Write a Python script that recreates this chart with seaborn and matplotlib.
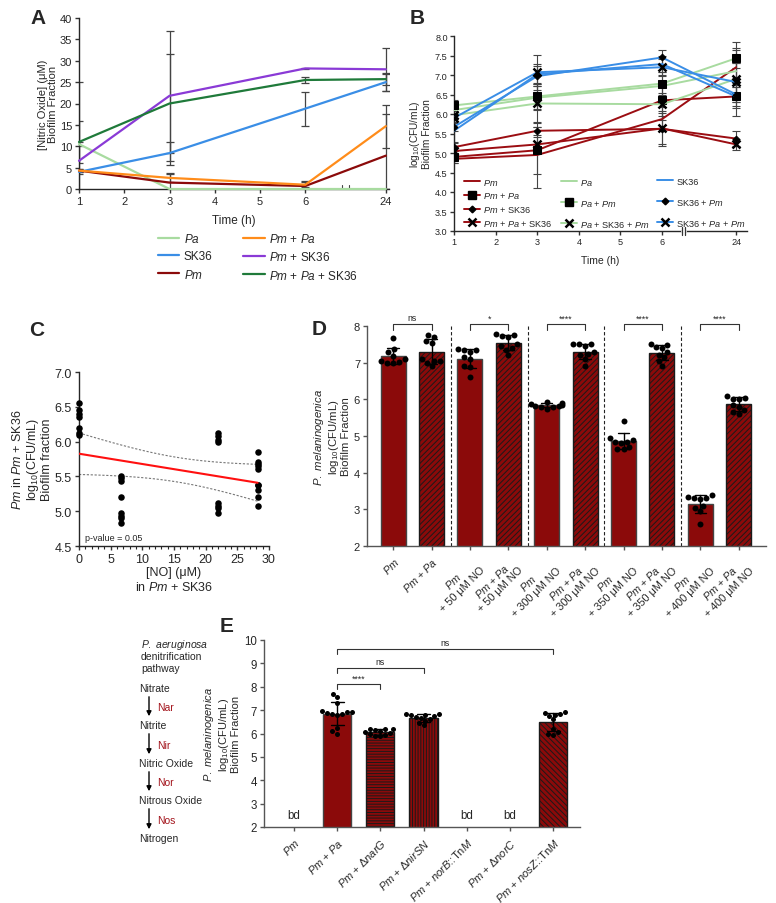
import numpy as np
import pandas as pd
import matplotlib
matplotlib.use('Agg')
import matplotlib.pyplot as plt
import matplotlib.transforms as mtrans
import seaborn as sns
from matplotlib.lines import Line2D

# ---------------- data ----------------
# A: nitric oxide (uM) in the biofilm fraction
times = [1, 3, 6, 24]
groups_a = ['Pa', 'SK36', 'Pm', 'Pm + Pa', 'Pm + SK36', 'Pm + Pa + SK36']
no_pa = [10.5, 0.0, 0.0, 0.0]
no_sk36 = [4.0, 8.4, 18.8, 25.0]
no_pm = [4.3, 1.5, 0.7, 7.8]
no_pm_pa = [4.3, 2.6, 1.0, 14.7]
no_pm_sk36 = [6.6, 21.8, 28.2, 28.0]
no_pm_pa_sk36 = [11.0, 20.0, 25.5, 25.7]
no_err = {'Pa': [0.5, 0.0, 0.0, 0.0], 'SK36': [0.5, 2.7, 4.0, 2.0],
          'Pm': [0.3, 2.2, 1.2, 9.8], 'Pm + Pa': [0.3, 1.0, 0.6, 5.0],
          'Pm + SK36': [18.4, 15.2, 0.1, 5.0], 'Pm + Pa + SK36': [5.0, 11.5, 0.8, 1.4]}

# B: log10 CFU/mL, species measured in each culture
series_b = ['Pm', 'Pm + Pa', 'Pm + SK36', 'Pm + Pa + SK36',
            'Pa', 'Pa + Pm', 'Pa + SK36 + Pm',
            'SK36', 'SK36 + Pm', 'SK36 + Pa + Pm']
cfu_b = {'Pm': [4.85, 4.95, 5.87, 7.2],
         'Pm + Pa': [4.9, 5.07, 6.35, 6.45],
         'Pm + SK36': [5.15, 5.57, 5.62, 5.37],
         'Pm + Pa + SK36': [5.05, 5.22, 5.63, 5.22],
         'Pa': [6.1, 6.42, 6.72, 7.1],
         'Pa + Pm': [6.22, 6.45, 6.78, 7.43],
         'Pa + SK36 + Pm': [5.97, 6.27, 6.25, 6.9],
         'SK36': [5.57, 7.02, 7.28, 6.45],
         'SK36 + Pm': [5.67, 6.97, 7.45, 6.5],
         'SK36 + Pa + Pm': [5.9, 7.07, 7.2, 6.82]}
err_b = {'Pm': [0.1, 0.85, 0.3, 0.45], 'Pm + Pa': [0.15, 0.6, 0.5, 0.25],
         'Pm + SK36': [0.1, 0.1, 0.4, 0.2], 'Pm + Pa + SK36': [0.1, 0.2, 0.45, 0.15],
         'Pa': [0.1, 0.3, 0.25, 0.2], 'Pa + Pm': [0.15, 0.35, 0.3, 0.25],
         'Pa + SK36 + Pm': [0.1, 0.5, 0.3, 0.95], 'SK36': [0.3, 0.25, 0.2, 0.3],
         'SK36 + Pm': [0.1, 0.25, 0.2, 0.2], 'SK36 + Pa + Pm': [0.1, 0.45, 0.2, 0.5]}

# C: Pm in Pm + SK36 vs NO
no_c = [0.0] * 7 + [6.7] * 8 + [22.0] * 8 + [28.2] * 10
cfu_c = [6.55, 6.45, 6.4, 6.35, 6.2, 6.12, 6.1,
         5.5, 5.47, 5.43, 5.2, 4.98, 4.93, 4.9, 4.83,
         6.13, 6.08, 6.03, 6.0, 5.12, 5.08, 5.05, 4.98,
         5.85, 5.7, 5.68, 5.65, 5.6, 5.38, 5.37, 5.3, 5.2, 5.08]

# D: P. melaninogenica with / without Pa and NO donor
labels_d = ['Pm', 'Pm + Pa', 'Pm\n+ 50 μM NO', 'Pm + Pa\n+ 50 μM NO',
            'Pm\n+ 300 μM NO', 'Pm + Pa\n+ 300 μM NO', 'Pm\n+ 350 μM NO',
            'Pm + Pa\n+ 350 μM NO', 'Pm\n+ 400 μM NO', 'Pm + Pa\n+ 400 μM NO']
points_d = [[7.68, 7.36, 7.28, 7.17, 7.1, 7.05, 7.02, 7.0, 6.98],
            [7.75, 7.7, 7.6, 7.55, 7.1, 7.05, 7.05, 7.0, 6.9],
            [7.38, 7.35, 7.35, 7.3, 7.15, 7.1, 6.9, 6.88, 6.6],
            [7.78, 7.75, 7.72, 7.7, 7.5, 7.45, 7.4, 7.35, 7.2],
            [5.92, 5.9, 5.88, 5.85, 5.83, 5.82, 5.8, 5.78, 5.75],
            [7.52, 7.5, 7.5, 7.45, 7.3, 7.25, 7.2, 7.1, 6.92],
            [5.4, 4.95, 4.9, 4.85, 4.85, 4.8, 4.7, 4.65, 4.65],
            [7.52, 7.48, 7.42, 7.4, 7.3, 7.22, 7.15, 7.05, 6.9],
            [3.38, 3.35, 3.32, 3.3, 3.28, 3.1, 3.05, 2.95, 2.6],
            [6.1, 6.05, 6.02, 6.0, 5.85, 5.8, 5.7, 5.65, 5.6]]
sig_d = ['ns', '*', '****', '****', '****']

# E: Pa denitrification mutants
labels_e = ['Pm', 'Pm + Pa', 'Pm + ΔnarG', 'Pm + ΔnirSN', 'Pm + norB::TnM',
            'Pm + ΔnorC', 'Pm + nosZ::TnM']
points_e = {'Pm + Pa': [7.7, 7.55, 7.3, 6.95, 6.92, 6.9, 6.88, 6.85, 6.85, 6.8, 6.25, 6.1, 6.0],
            'Pm + ΔnarG': [6.2, 6.2, 6.18, 6.15, 6.1, 6.05, 6.02, 5.98, 5.95, 5.9, 5.88],
            'Pm + ΔnirSN': [6.85, 6.82, 6.8, 6.78, 6.75, 6.7, 6.65, 6.6, 6.55, 6.45, 6.35],
            'Pm + nosZ::TnM': [6.9, 6.88, 6.85, 6.8, 6.75, 6.6, 6.2, 6.05, 6.0, 5.95]}
below_detect = ['Pm', 'Pm + norB::TnM', 'Pm + ΔnorC']
sig_e = [('Pm + Pa', 'Pm + ΔnarG', '****', 8.1), ('Pm + Pa', 'Pm + ΔnirSN', 'ns', 8.8),
         ('Pm + Pa', 'Pm + nosZ::TnM', 'ns', 9.6)]

pathway = ['Nitrate', 'Nitrite', 'Nitric Oxide', 'Nitrous Oxide', 'Nitrogen']
enzymes = ['Nar', 'Nir', 'Nor', 'Nos']

# ---------------- style ----------------
sns.set_style('ticks')
plt.rcParams['font.family'] = ['Liberation Sans', 'DejaVu Sans']
plt.rcParams['mathtext.fontset'] = 'custom'
plt.rcParams['mathtext.rm'] = 'Liberation Sans'
plt.rcParams['mathtext.it'] = 'Liberation Sans:italic'
plt.rcParams['mathtext.bf'] = 'Liberation Sans:bold'
plt.rcParams['hatch.linewidth'] = 0.7
plt.rcParams['axes.linewidth'] = 1.0

RED = '#8b0a0a'
col_a = {'Pa': '#a8dba0', 'SK36': '#3a8ee6', 'Pm': '#8b0a0a', 'Pm + Pa': '#ff8c1a',
         'Pm + SK36': '#8a3ad6', 'Pm + Pa + SK36': '#1f7a3a'}


def it(s):
    out = []
    for w in s.split(' '):
        if w in ('Pm', 'Pa'):
            out.append(r'$\it{%s}$' % w)
        elif w.startswith('Δ'):
            out.append('Δ' + r'$\it{%s}$' % w[1:])
        elif '::' in w:
            g, t = w.split('::')
            out.append(r'$\it{%s}$::Tn$\it{%s}$' % (g, t[2:]))
        else:
            out.append(w)
    return ' '.join(out)


def tpos(t):
    # broken time axis: 24 h is drawn just after the break
    return t if t <= 6 else 7.78


W, H = 776, 904


def box(l, t, r, b):
    return [l / W, 1 - b / H, (r - l) / W, (b - t) / H]


def ylab(ax, text, right_px, left_px, width_px, size):
    ax.set_ylabel(text, fontsize=size, linespacing=1.05)
    ax.yaxis.set_label_coords((right_px - left_px) / width_px, 0.5)


fig = plt.figure(figsize=(W / 100, H / 100), dpi=100)

# ---------------- A ----------------
ax = fig.add_axes(box(79, 19, 389, 190))
rows = []
for g, v in zip(groups_a, [no_pa, no_sk36, no_pm, no_pm_pa, no_pm_sk36, no_pm_pa_sk36]):
    for t, y, e in zip(times, v, no_err[g]):
        rows.append({'group': g, 'pos': tpos(t), 'no': y, 'err': e})
dfa = pd.DataFrame(rows)
for g in groups_a:
    d = dfa[dfa.group == g]
    ax.errorbar(d.pos, d.no, yerr=d.err, fmt='none', ecolor='#444', elinewidth=0.9,
                capsize=3, capthick=0.9, zorder=1)
sns.lineplot(data=dfa, x='pos', y='no', hue='group', hue_order=groups_a, palette=col_a,
             lw=1.6, legend=False, ax=ax, zorder=3, clip_on=False)
ax.set_xlim(1, 7.85)
ax.set_ylim(0, 40)
ax.set_xticks([tpos(t) for t in [1, 2, 3, 4, 5, 6, 24]])
ax.set_xticklabels(['1', '2', '3', '4', '5', '6', '24'])
ax.set_yticks(range(0, 41, 5))
ax.tick_params(labelsize=8, length=3, width=1, color='#333', pad=2)
ax.set_xlabel('Time (h)', fontsize=8.5, labelpad=6)
ylab(ax, '[Nitric Oxide] (μM)\nBiofilm Fraction', 58, 79, 310, 8)
tr = mtrans.blended_transform_factory(ax.transData, ax.transAxes)
for xb in (6.81, 6.96):
    ax.plot([xb, xb], [0.0, 0.025], color='#444', lw=0.8, transform=tr, clip_on=False)
sns.despine(ax=ax)
ha = [Line2D([], [], color=col_a[g], lw=1.6) for g in groups_a]
fig.legend(ha, [it(g) for g in groups_a], ncol=2, loc='upper left',
           bbox_to_anchor=(152 / W, 1 - 227 / H), frameon=False, fontsize=8.5,
           borderpad=0, handlelength=1.8, handletextpad=0.4, columnspacing=2.6,
           labelspacing=0.45)

# ---------------- B ----------------
ax = fig.add_axes(box(454, 37, 747, 232))
col_b = {'Pm': '#9b0d12', 'Pa': '#a8dba0', 'SK36': '#3a8ee6'}
mk_b = {}
for s in series_b:
    parts = s.split(' + ')
    if len(parts) == 1:
        mk_b[s] = None
    elif len(parts) == 3:
        mk_b[s] = 'x'
    elif 'Pa' in parts:
        mk_b[s] = 's'
    else:
        mk_b[s] = 'D'
pos_b = [tpos(t) for t in times]
handles_b = {}
for s in series_b:
    c = col_b[s.split(' ')[0]]
    ax.errorbar(pos_b, cfu_b[s], yerr=err_b[s], fmt='none', ecolor='#444', elinewidth=0.8,
                capsize=3, capthick=0.8, zorder=1)
    m = mk_b[s]
    kw = {}
    if m == 's':
        kw = dict(marker='s', markersize=6, markerfacecolor='k', markeredgecolor='k')
    elif m == 'D':
        kw = dict(marker='D', markersize=3.4, markerfacecolor='k', markeredgecolor='k')
    elif m == 'x':
        kw = dict(marker='x', markersize=6, markeredgewidth=1.8, markeredgecolor='k')
    sns.lineplot(x=pos_b, y=cfu_b[s], color=c, lw=1.4, ax=ax, zorder=3, **kw)
    handles_b[s] = Line2D([], [], color=c, lw=1.4, **kw)
ax.set_xlim(1, 8.04)
ax.set_ylim(3.0, 8.0)
ax.set_xticks([tpos(t) for t in [1, 2, 3, 4, 5, 6, 24]])
ax.set_xticklabels(['1', '2', '3', '4', '5', '6', '24'])
ax.set_yticks(np.arange(3.0, 8.01, 0.5))
ax.set_yticklabels(['%.1f' % v for v in np.arange(3.0, 8.01, 0.5)])
ax.tick_params(labelsize=6.6, length=3, width=1, color='#333', pad=1.5)
ax.set_xlabel('Time (h)', fontsize=7.5, labelpad=6)
ylab(ax, 'log$_{10}$(CFU/mL)\nBiofilm Fraction', 432, 454, 293, 7.3)
sns.despine(ax=ax)
tr = mtrans.blended_transform_factory(ax.transData, ax.transAxes)
ax.plot([6.48, 6.56], [0, 0], color='white', lw=2, transform=tr, clip_on=False, zorder=5)
for xb in (6.48, 6.56):
    ax.plot([xb, xb], [-0.02, 0.02], color='#333', lw=0.9, transform=tr, clip_on=False, zorder=6)
leg_cols = [(['Pm', 'Pm + Pa', 'Pm + SK36', 'Pm + Pa + SK36'], 459, 0.4),
            (['Pa', 'Pa + Pm', 'Pa + SK36 + Pm'], 556, 1.2),
            (['SK36', 'SK36 + Pm', 'SK36 + Pa + Pm'], 652, 1.2)]
for names, x0, sp in leg_cols:
    lg = ax.legend([handles_b[n] for n in names], [it(n) for n in names], loc='upper left',
                   bbox_to_anchor=(x0 / W, 1 - 173 / H), bbox_transform=fig.transFigure,
                   frameon=False, fontsize=6.6, borderpad=0, handlelength=1.8,
                   handletextpad=0.35, labelspacing=sp)
    ax.add_artist(lg)
ax.legend_ = None

# ---------------- C ----------------
ax = fig.add_axes(box(79, 373, 269, 547))
dfc = pd.DataFrame({'no': no_c, 'cfu': cfu_c})
sns.scatterplot(data=dfc, x='no', y='cfu', color='k', s=22, edgecolor='k', lw=0, ax=ax,
                zorder=3, clip_on=False)
x = np.array(no_c)
y = np.array(cfu_c)
slope, icpt = np.polyfit(x, y, 1)
xx = np.linspace(0, x.max(), 100)
fit = icpt + slope * xx
res = y - (icpt + slope * x)
s_res = np.sqrt(np.sum(res ** 2) / (len(x) - 2))
se = s_res * np.sqrt(1 / len(x) + (xx - x.mean()) ** 2 / np.sum((x - x.mean()) ** 2))
ax.plot(xx, fit, color='#ff1010', lw=1.5, zorder=4)
ax.plot(xx, fit + 2.04 * se, color='#777', lw=0.8, ls=(0, (2, 1.5)))
ax.plot(xx, fit - 2.04 * se, color='#777', lw=0.8, ls=(0, (2, 1.5)))
ax.set_xlim(0, 30)
ax.set_ylim(4.5, 7.0)
ax.set_xticks(range(0, 31, 5))
ax.set_xticks(range(0, 31, 1), minor=True)
ax.set_yticks(np.arange(4.5, 7.01, 0.5))
ax.set_yticklabels(['%.1f' % v for v in np.arange(4.5, 7.01, 0.5)])
ax.tick_params(labelsize=9, length=3, width=1, color='#333', pad=2)
ax.tick_params(which='minor', length=2, width=0.8)
ax.set_xlabel('[NO] (μM)\nin ' + it('Pm + SK36'), fontsize=9, labelpad=1)
ylab(ax, it('Pm') + ' in ' + it('Pm + SK36') + '\nlog$_{10}$(CFU/mL)\nBiofilm fraction',
     53, 79, 190, 9)
ax.text(1.0, 4.62, 'p-value = 0.05', fontsize=6.5, va='center')
sns.despine(ax=ax)

# ---------------- D ----------------
ax = fig.add_axes(box(367, 327, 766, 547))
dfd = pd.DataFrame([{'cond': labels_d[i], 'val': v} for i, p in enumerate(points_d) for v in p])
sns.barplot(data=dfd, x='cond', y='val', order=labels_d, errorbar='sd', capsize=0.3,
            width=0.65, color=RED, saturation=1, edgecolor='#444', linewidth=1,
            err_kws={'color': 'k', 'linewidth': 1}, ax=ax)
for p in ax.patches:
    idx = int(round(p.get_x() + p.get_width() / 2))
    if idx % 2 == 1:
        p.set_hatch('//////')
        p.set_edgecolor('#1a1a1a')
sns.swarmplot(data=dfd, x='cond', y='val', order=labels_d, color='k', size=4.3, ax=ax)
ax.set_xlim(-0.68, 9.71)
ax.set_ylim(2, 8)
ax.set_yticks(range(2, 9))
ax.set_xticks(range(len(labels_d)))
ax.set_xticklabels(['\n'.join(it(l) for l in lab.split('\n')) for lab in labels_d],
                   rotation=45, ha='right', rotation_mode='anchor', multialignment='center',
                   fontsize=7.8)
ax.tick_params(axis='y', labelsize=8, pad=2)
ax.tick_params(length=3, width=1, color='#555')
ax.set_xlabel('')
ylab(ax, r'$\it{P.\ melaninogenica}$' + '\nlog$_{10}$(CFU/mL)\nBiofilm Fraction',
     351, 367, 399, 8.2)
for xs in (1.5, 3.5, 5.5, 7.5):
    ax.plot([xs, xs], [2, 8.05], color='#222', lw=0.8, ls=(0, (3, 2)), clip_on=False)
for i, s in enumerate(sig_d):
    x0, x1 = 2 * i, 2 * i + 1
    ax.plot([x0, x0, x1, x1], [7.9, 8.06, 8.06, 7.9], color='#333', lw=0.8, clip_on=False)
    ax.text((x0 + x1) / 2, 8.1, s, ha='center', va='bottom', fontsize=6.3)
for sp in ax.spines.values():
    sp.set_color('#555')
sns.despine(ax=ax)

# ---------------- E ----------------
ax = fig.add_axes(box(264, 641, 580, 828))
dfe = pd.DataFrame([{'cond': k, 'val': v} for k, p in points_e.items() for v in p])
sns.barplot(data=dfe, x='cond', y='val', order=labels_e, errorbar='sd', capsize=0.3,
            width=0.65, color=RED, saturation=1, edgecolor='#444', linewidth=1,
            err_kws={'color': 'k', 'linewidth': 1}, ax=ax)
hatch_e = {2: '------', 3: '||||||', 6: '\\\\\\\\\\\\'}
for p in ax.patches:
    idx = int(round(p.get_x() + p.get_width() / 2))
    if idx in hatch_e:
        p.set_hatch(hatch_e[idx])
        p.set_edgecolor('#1a1a1a')
sns.swarmplot(data=dfe, x='cond', y='val', order=labels_e, color='k', size=3.6, ax=ax)
ax.set_xlim(-0.69, 6.62)
ax.set_ylim(2, 10)
ax.set_yticks(range(2, 11))
ax.set_xticks(range(len(labels_e)))
ax.set_xticklabels([it(l) for l in labels_e], rotation=45, ha='right', rotation_mode='anchor',
                   fontsize=8)
ax.tick_params(axis='y', labelsize=8.3, pad=2)
ax.tick_params(length=3, width=1, color='#555')
ax.set_xlabel('')
ylab(ax, r'$\it{P.\ melaninogenica}$' + '\nlog$_{10}$(CFU/mL)\nBiofilm Fraction',
     241, 264, 316, 8)
for lab in below_detect:
    ax.text(labels_e.index(lab), 2.5, 'bd', ha='center', va='center', fontsize=8.3)
for a, b, s, yb in sig_e:
    x0, x1 = labels_e.index(a), labels_e.index(b)
    ax.plot([x0, x0, x1, x1], [yb - 0.2, yb, yb, yb - 0.2], color='#333', lw=0.8, clip_on=False)
    ax.text((x0 + x1) / 2, yb + 0.08, s, ha='center', va='bottom', fontsize=6.3)
for sp in ax.spines.values():
    sp.set_color('#555')
sns.despine(ax=ax)

# ---------------- overlay: letters, pathway ----------------
ov = fig.add_axes([0, 0, 1, 1], zorder=10)
ov.set_xlim(0, W)
ov.set_ylim(H, 0)
ov.axis('off')
for letter, lx, ly in [('A', 30, 19), ('B', 410, 19), ('C', 29, 331), ('D', 312, 330),
                       ('E', 220, 627)]:
    ov.text(lx, ly, letter, fontsize=15, fontweight='bold', va='center', ha='left')
ov.text(141, 645, r'$\it{P.\ aeruginosa}$', fontsize=7.5, va='center')
ov.text(141, 657, 'denitrification', fontsize=7.5, va='center')
ov.text(141, 669, 'pathway', fontsize=7.5, va='center')
ys = [689, 726, 764, 801, 839]
for i, name in enumerate(pathway):
    ov.text(139, ys[i], name, fontsize=7.5, va='center')
    if i < len(enzymes):
        ov.annotate('', xy=(149, ys[i + 1] - 6), xytext=(149, ys[i] + 6),
                    arrowprops=dict(arrowstyle='-|>', color='k', lw=1, mutation_scale=7))
        ov.text(157, (ys[i] + ys[i + 1]) / 2 + 1, enzymes[i], fontsize=7.5, va='center',
                color='#a3141c')

fig.savefig('out.png', dpi=100)
